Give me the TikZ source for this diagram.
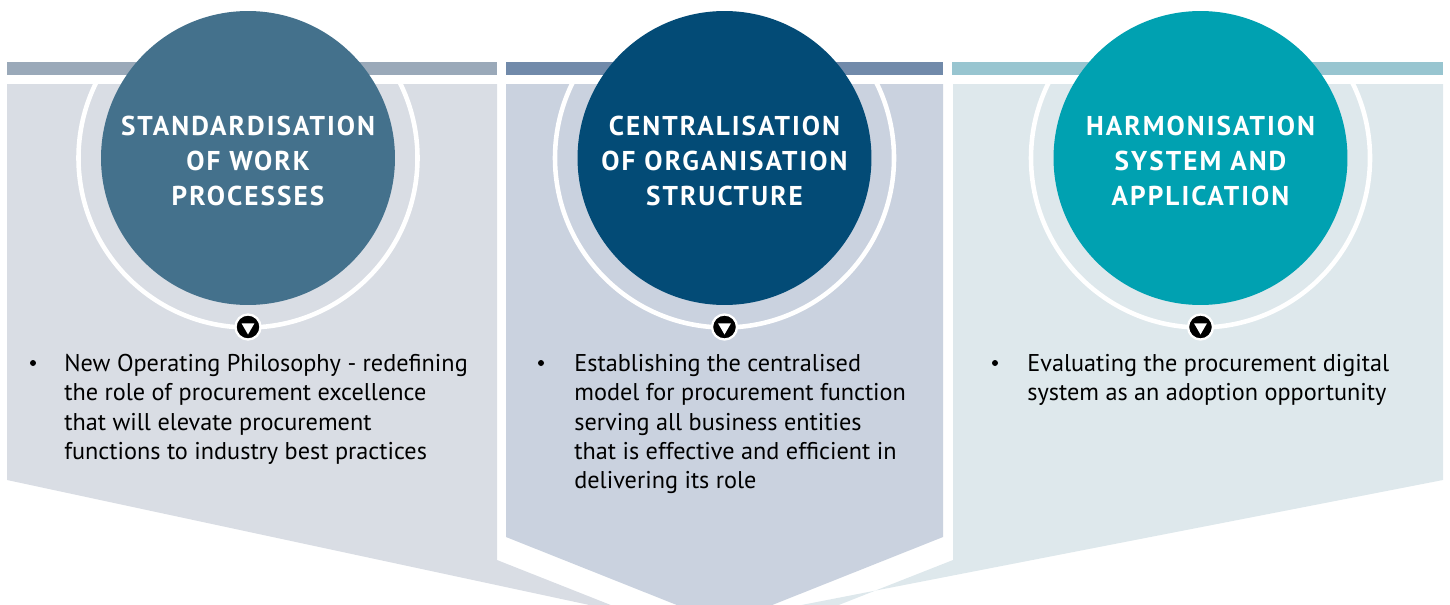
\documentclass[tikz,border=0pt]{standalone}
\usepackage{fontspec}
\setmainfont{PT Sans}
\newfontfamily\headfont[LetterSpace=7.5]{PT Sans}
\usetikzlibrary{shapes.geometric}
\definecolor{barone}{HTML}{9AA9B9}
\definecolor{bartwo}{HTML}{718AAA}
\definecolor{barthree}{HTML}{98C5D0}
\definecolor{panelone}{HTML}{D9DDE4}
\definecolor{paneltwo}{HTML}{CAD2DF}
\definecolor{panelthree}{HTML}{DEE8EC}
\definecolor{circone}{HTML}{44718C}
\definecolor{circtwo}{HTML}{034B76}
\definecolor{circthree}{HTML}{00A1B1}
\tikzset{
    ring/.style = {draw=white, line width=2.6pt},
    circ/.style = {circle, minimum size=5.88cm, inner sep=0pt},
    title/.style = {text=white, align=center, inner sep=0pt, font=\headfont\bfseries\fontsize{15.5}{19.8}\selectfont},
    badge/.style = {circle, fill=black, draw=white, line width=1.3pt, minimum size=0.5cm, inner sep=0pt},
    tri/.style = {regular polygon, regular polygon sides=3, shape border rotate=180, fill=white, inner sep=0pt, minimum size=0.3cm},
    bulletdot/.style = {circle, fill=black, inner sep=0pt, minimum size=0.12cm},
    bodytext/.style = {anchor=north west, align=left, inner sep=0pt, font=\fontsize{13.8}{16.7}\selectfont}
}
\begin{document}
\begin{tikzpicture}[x=0.02cm, y=-0.02cm]
\useasboundingbox (0,0) rectangle (1450,605);

% panels
\fill[panelone] (7,84) -- (497,84) -- (497,560) -- (724.5,650) -- (724.5,634) -- (7,480) -- cycle;
\fill[panelthree] (953,84) -- (1443,84) -- (1443,480) -- (724.5,620) -- (724.5,650) -- (953,560) -- cycle;
\draw[white, line width=9pt, line join=miter] (506,84) -- (943,84) -- (943,537) -- (724.5,624) -- (506,537) -- cycle;
\fill[paneltwo] (506,84) -- (943,84) -- (943,537) -- (724.5,624) -- (506,537) -- cycle;

% top bars
\fill[barone] (7,62) rectangle (497,75);
\fill[bartwo] (506,62) rectangle (943,75);
\fill[barthree] (952,62) rectangle (1443,75);

% rings
\begin{scope}
\clip (7,84) rectangle (497,605);
\draw[ring] (248,158) circle (169.5);
\end{scope}
\begin{scope}
\clip (506,84) rectangle (943,605);
\draw[ring] (724.5,158) circle (169.5);
\end{scope}
\begin{scope}
\clip (953,84) rectangle (1443,605);
\draw[ring] (1200.5,158) circle (169.5);
\end{scope}

% circles
\node[circ, fill=circone] (std) at (248,158) {};
\node[title] (stdtitle) at (248,161) {STANDARDISATION\\OF WORK\\PROCESSES};
\node[circ, fill=circtwo] (cen) at (724.5,158) {};
\node[title] (centitle) at (724.5,161) {CENTRALISATION\\OF ORGANISATION\\STRUCTURE};
\node[circ, fill=circthree] (har) at (1200.5,158) {};
\node[title] (hartitle) at (1200.5,161) {HARMONISATION\\SYSTEM AND\\APPLICATION};

% badges
\node[badge] (stdbadge) at (248,327) {};
\node[tri] (stdtri) at (stdbadge) {};
\node[badge] (cenbadge) at (724.5,327) {};
\node[tri] (centri) at (cenbadge) {};
\node[badge] (harbadge) at (1200.5,327) {};
\node[tri] (hartri) at (harbadge) {};

% bullet texts
\node[bulletdot] (stddot) at (33,363) {};
\node[bodytext] (stdtext) at (64,354) {New Operating Philosophy - redefining\\the role of procurement excellence\\that will elevate procurement\\functions to industry best practices};
\node[bulletdot] (cendot) at (541,363) {};
\node[bodytext] (centext) at (574,354) {Establishing the centralised\\model for procurement function\\serving all business entities\\that is effective and efficient in\\delivering its role};
\node[bulletdot] (hardot) at (995,363) {};
\node[bodytext] (hartext) at (1027,354) {Evaluating the procurement digital\\system as an adoption opportunity};
\end{tikzpicture}
\end{document}
